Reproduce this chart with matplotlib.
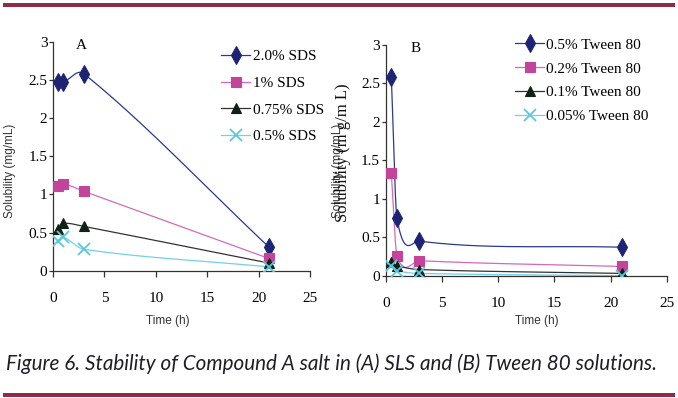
import numpy as np
import matplotlib
matplotlib.use("Agg")
import matplotlib.pyplot as plt
from matplotlib.lines import Line2D

# time points (h)
time_h = [0.5, 1, 3, 21]

# panel A - SDS solutions
sds_labels = ['2.0% SDS', '1% SDS', '0.75% SDS', '0.5% SDS']
sds_20 = [2.47, 2.47, 2.58, 0.31]
sds_10 = [1.11, 1.14, 1.04, 0.16]
sds_075 = [0.55, 0.62, 0.58, 0.10]
sds_05 = [0.39, 0.44, 0.28, 0.05]

# panel B - Tween 80 solutions
tw_labels = ['0.5% Tween 80', '0.2% Tween 80', '0.1% Tween 80', '0.05% Tween 80']
tw_05 = [2.58, 0.75, 0.45, 0.37]
tw_02 = [1.33, 0.26, 0.195, 0.12]
tw_01 = [0.18, 0.13, 0.08, 0.03]
tw_005 = [0.12, 0.065, 0.03, 0.0]

line_cols = ['#2b3a8c', '#d26ab8', '#333333', '#74d0ea']
mark_cols = ['#1c2473', '#c2449b', '#0e2314', '#5cc8e0']
markers = ['d', 's', '^', 'x']
msizes = [9, 6.5, 7, 8]

serif = 'Liberation Serif'
sans = 'Liberation Sans'


def smooth(x, y, n=60):
    # excel-like smoothed line: cubic hermite through the points
    x = np.asarray(x, float)
    y = np.asarray(y, float)
    m = np.empty_like(y)
    m[0] = (y[1] - y[0]) / (x[1] - x[0])
    m[-1] = (y[-1] - y[-2]) / (x[-1] - x[-2])
    m[1:-1] = (y[2:] - y[:-2]) / (x[2:] - x[:-2])
    xs, ys = [], []
    t = np.linspace(0, 1, n)
    for i in range(len(x) - 1):
        h = x[i + 1] - x[i]
        h00 = 2 * t**3 - 3 * t**2 + 1
        h10 = t**3 - 2 * t**2 + t
        h01 = -2 * t**3 + 3 * t**2
        h11 = t**3 - t**2
        xs.append(x[i] + t * h)
        ys.append(h00 * y[i] + h10 * h * m[i] + h01 * y[i + 1] + h11 * h * m[i + 1])
    return np.concatenate(xs), np.concatenate(ys)


def draw_panel(ax, series, labels, letter, leg_anchor, spacing):
    handles = []
    for i, ys in enumerate(series):
        sx, sy = smooth(time_h, ys)
        ax.plot(sx, sy, color=line_cols[i], lw=0.9, zorder=2)
        ax.plot(time_h, ys, linestyle='none', marker=markers[i],
                ms=msizes[i], color=mark_cols[i], mec=mark_cols[i],
                mew=1.3 if markers[i] == 'x' else 0.8, zorder=3)
        handles.append(Line2D([], [], color=line_cols[i], lw=0.9,
                              marker=markers[i], ms=msizes[i],
                              markerfacecolor=mark_cols[i],
                              markeredgecolor=mark_cols[i],
                              mew=1.3 if markers[i] == 'x' else 0.8))
    ax.set_xlim(0, 25)
    ax.set_ylim(0, 3)
    ax.set_xticks(range(0, 26, 5))
    ax.set_yticks(np.arange(0, 3.01, 0.5))
    ax.set_yticklabels(['0', '0.5', '1', '1.5', '2', '2.5', '3'])
    for s in ['top', 'right']:
        ax.spines[s].set_visible(False)
    for s in ['left', 'bottom']:
        ax.spines[s].set_color('#333333')
        ax.spines[s].set_linewidth(0.9)
    ax.tick_params(axis='x', length=4, width=0.9, color='#333333', pad=11)
    ax.tick_params(axis='y', length=3, width=0.9, color='#333333', pad=1)
    for lab in ax.get_xticklabels() + ax.get_yticklabels():
        lab.set_fontfamily(serif)
        lab.set_fontsize(11)
    ax.text(0.09, 0.985, letter, transform=ax.transAxes, family=serif,
            fontsize=11, va='center', ha='left')
    ax.legend(handles, labels, loc='upper left', bbox_to_anchor=leg_anchor,
              frameon=False, prop={'family': serif, 'size': 11},
              handlelength=1.9, handletextpad=0.15, labelspacing=spacing,
              borderpad=0, borderaxespad=0)


fig = plt.figure(figsize=(6.78, 3.98), dpi=100)

axA = fig.add_axes([0.0782, 0.3199, 0.379, 0.5754])
draw_panel(axA, [sds_20, sds_10, sds_075, sds_05], sds_labels, 'A',
           (0.655, 0.965), 0.85)

axB = fig.add_axes([0.5689, 0.3073, 0.4145, 0.5796])
draw_panel(axB, [tw_05, tw_02, tw_01, tw_005], tw_labels, 'B',
           (0.46, 1.03), 0.66)

# axis titles
fig.text(168 / 678, 1 - 321 / 398, 'Time (h)', family=sans, fontsize=8.5,
         color='#333333', ha='center', va='center')
fig.text(537 / 678, 1 - 321 / 398, 'Time (h)', family=sans, fontsize=8.5,
         color='#333333', ha='center', va='center')
fig.text(10 / 678, 1 - 171 / 398, 'Solubility (mg/mL)', family=sans,
         fontsize=8.5, color='#333333', rotation=90, ha='center', va='center')
# panel B carries two overlapping axis titles, as in the source figure
fig.text(338 / 678, 1 - 171 / 398, 'Solubility (mg/mL)', family=sans,
         fontsize=8.5, color='#333333', rotation=90, ha='center', va='center')
fig.text(343 / 678, 1 - 153 / 398, 'Solubility (m g/m L)', family=serif,
         fontsize=12, color='#111111', rotation=90, ha='center', va='center')

# caption and decorative bars
fig.text(6 / 678, 1 - 364 / 398,
         'Figure 6. Stability of Compound A salt in (A) SLS and (B) Tween 80 solutions.',
         family='Lato', style='italic', fontsize=14.9, color='#1e1e28',
         ha='left', va='center')
fig.add_artist(plt.Rectangle((3 / 678, 1 - 6.5 / 398), 672 / 678, 3.5 / 398,
                             transform=fig.transFigure, color='#8e2b47', lw=0))
fig.add_artist(plt.Rectangle((3 / 678, 1 - 397 / 398), 672 / 678, 4 / 398,
                             transform=fig.transFigure, color='#8e2b47', lw=0))

fig.savefig('out.png', dpi=100)
